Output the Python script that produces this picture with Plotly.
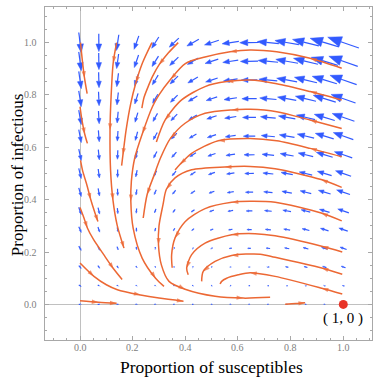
import numpy as np
import plotly.graph_objects as go

# ---- vector field: SIR model with vital dynamics (parameters)
beta = 1.0        # transmission rate
gamma_mu = 0.65   # recovery + death rate
mu = 0.08         # birth/death rate
grid_s = [0, 1/14, 2/14, 3/14, 4/14, 5/14, 6/14, 7/14, 8/14, 9/14, 10/14, 11/14, 12/14, 13/14, 1]
grid_i = [0, 1/14, 2/14, 3/14, 4/14, 5/14, 6/14, 7/14, 8/14, 9/14, 10/14, 11/14, 12/14, 13/14, 1]

# ---- streamlines (S, I), in direction of travel
stream_1 = [(0.002, 1.0), (0.009, 0.93), (0.017, 0.865), (0.027, 0.805)]
stream_2 = [(0.0, 0.755), (0.008, 0.70), (0.018, 0.65), (0.028, 0.615)]
stream_3 = [(0.002, 0.55), (0.01, 0.51), (0.025, 0.46), (0.041, 0.40), (0.055, 0.355), (0.068, 0.317)]
stream_4 = [(0.0, 0.37), (0.015, 0.33), (0.028, 0.292), (0.05, 0.25), (0.09, 0.19), (0.128, 0.135), (0.16, 0.095)]
stream_5 = [(0.0, 0.158), (0.053, 0.107), (0.10, 0.075), (0.142, 0.056), (0.23, 0.036), (0.30, 0.024), (0.393, 0.012)]
stream_6 = [(0.0, 0.014), (0.07, 0.008), (0.139, 0.004)]
stream_c = [(0.139, 1.0), (0.126, 0.922), (0.118, 0.792), (0.114, 0.666), (0.116, 0.513), (0.125, 0.399), (0.141, 0.303), (0.167, 0.215)]
stream_d = [(0.273, 1.0), (0.237, 0.922), (0.212, 0.846), (0.193, 0.769), (0.175, 0.666), (0.163, 0.571), (0.158, 0.53)]
stream_e = [(0.373, 1.0), (0.335, 0.96), (0.30, 0.915), (0.275, 0.87), (0.258, 0.83), (0.243, 0.79), (0.235, 0.75)]
stream_f = [(0.994, 0.902), (0.874, 0.94), (0.747, 0.965), (0.646, 0.972), (0.57, 0.965), (0.475, 0.945), (0.40, 0.92),
            (0.344, 0.86), (0.30, 0.80), (0.275, 0.755), (0.237, 0.653), (0.208, 0.56), (0.195, 0.47), (0.193, 0.394),
            (0.202, 0.29), (0.236, 0.177), (0.287, 0.10), (0.319, 0.069)]
stream_g = [(0.994, 0.781), (0.874, 0.813), (0.747, 0.843), (0.646, 0.857), (0.557, 0.851), (0.475, 0.832), (0.386, 0.781),
            (0.323, 0.704), (0.29, 0.62)]
stream_h = [(0.994, 0.672), (0.874, 0.704), (0.747, 0.736), (0.646, 0.745), (0.576, 0.743), (0.475, 0.73), (0.399, 0.692),
            (0.344, 0.635), (0.306, 0.56), (0.28, 0.49), (0.255, 0.42), (0.24, 0.33)]
stream_i = [(0.994, 0.564), (0.874, 0.596), (0.747, 0.625), (0.646, 0.634), (0.525, 0.625), (0.424, 0.577), (0.38, 0.535),
            (0.361, 0.513)]
stream_j = [(0.994, 0.447), (0.916, 0.477), (0.741, 0.518), (0.646, 0.527), (0.55, 0.525), (0.424, 0.514), (0.361, 0.483),
            (0.328, 0.44), (0.315, 0.38), (0.30, 0.30), (0.298, 0.228), (0.309, 0.151), (0.338, 0.088), (0.399, 0.058),
            (0.513, 0.031), (0.62, 0.024), (0.722, 0.027)]
stream_k = [(0.994, 0.319), (0.916, 0.349), (0.741, 0.39), (0.646, 0.394), (0.576, 0.39), (0.475, 0.366), (0.40, 0.317),
            (0.361, 0.254), (0.348, 0.19), (0.35, 0.14)]
stream_l = [(0.996, 0.2), (0.918, 0.222), (0.741, 0.262), (0.665, 0.27), (0.576, 0.266), (0.475, 0.234), (0.424, 0.19),
            (0.405, 0.139), (0.411, 0.113)]
stream_m = [(0.996, 0.115), (0.918, 0.139), (0.741, 0.18), (0.684, 0.192), (0.576, 0.187), (0.513, 0.164), (0.468, 0.126),
            (0.462, 0.088)]
stream_n = [(0.996, 0.04), (0.918, 0.062), (0.741, 0.107), (0.646, 0.121), (0.601, 0.113), (0.557, 0.10), (0.538, 0.088),
            (0.532, 0.078)]
stream_o = [(0.779, 0.001), (0.82, 0.003), (0.855, 0.006)]

streams = [stream_1, stream_2, stream_3, stream_4, stream_5, stream_6, stream_c, stream_d, stream_e, stream_f,
           stream_g, stream_h, stream_i, stream_j, stream_k, stream_l, stream_m, stream_n, stream_o]
# indices along each streamline where an arrowhead is drawn
arrow_at = [[2], [2], [3, 5], [2, 5], [1, 4, 6], [1, 2], [1, 3, 5, 7], [2, 5], [2], [1, 4, 7, 10, 13, 16],
            [1, 4, 7], [1, 4, 7, 10], [1, 4, 6], [1, 4, 7, 10, 13, 15], [1, 4, 7], [1, 4, 7], [1, 4, 6], [1, 3], [2]]

equilibrium = (1.0, 0.0)
eq_label = "( 1, 0 )"
xticks = [0.0, 0.2, 0.4, 0.6, 0.8, 1.0]
yticks = [0.0, 0.2, 0.4, 0.6, 0.8, 1.0]
xtitle = "Proportion of susceptibles"
ytitle = "Proportion of infectious"

# ---- geometry
W = H = 378
ML, MR, MT, MB = 45, 6, 7, 38
XR = [-0.133, 1.109]
YR = [-0.136, 1.136]
PW, PH = W - ML - MR, H - MT - MB
pxx = PW / (XR[1] - XR[0])
pxy = PH / (YR[1] - YR[0])

BLUE = "rgb(50,90,255)"
ORANGE = "rgb(236,104,52)"
TICKGRAY = "#808080"
SERIF = "Liberation Serif"

fig = go.Figure()

# vector field arrows
S, I = np.meshgrid(grid_s, grid_i)
U = mu * (1 - S) - beta * S * I
V = beta * S * I - gamma_mu * I
Up, Vp = U * pxx, V * pxy
mag = np.hypot(Up, Vp)
Lmax = 33.0
L = np.maximum(Lmax * mag / mag.max(), 1.6)
shaft_x, shaft_y, head_x, head_y = [], [], [], []
for r in range(S.shape[0]):
    for c in range(S.shape[1]):
        m = mag[r, c]
        if m == 0:
            dx, dy = 1.0, 0.0
        else:
            dx, dy = Up[r, c] / m, Vp[r, c] / m
        ln = L[r, c]
        cx, cy = S[r, c] * pxx, I[r, c] * pxy
        tx, ty = cx - dx * ln / 2, cy - dy * ln / 2
        hx, hy = cx + dx * ln / 2, cy + dy * ln / 2
        hl, hw = 0.42 * ln, 0.16 * ln
        bx, by = hx - dx * hl, hy - dy * hl
        shaft_x += [tx / pxx, bx / pxx, None]
        shaft_y += [ty / pxy, by / pxy, None]
        nx, ny = -dy, dx
        head_x += [hx / pxx, (bx + nx * hw) / pxx, (bx - nx * hw) / pxx, hx / pxx, None]
        head_y += [hy / pxy, (by + ny * hw) / pxy, (by - ny * hw) / pxy, hy / pxy, None]

fig.add_trace(go.Scatter(x=shaft_x, y=shaft_y, mode="lines", line=dict(color=BLUE, width=1.2),
                         hoverinfo="skip", showlegend=False))
fig.add_trace(go.Scatter(x=head_x, y=head_y, mode="lines", fill="toself", fillcolor=BLUE,
                         line=dict(color=BLUE, width=0.5), hoverinfo="skip", showlegend=False))

# streamlines
for pts, arr in zip(streams, arrow_at):
    xs = [p[0] for p in pts]
    ys = [p[1] for p in pts]
    sizes = [7 if k in arr else 0 for k in range(len(pts))]
    fig.add_trace(go.Scatter(x=xs, y=ys, mode="lines+markers",
                             line=dict(color=ORANGE, width=1.5, shape="spline", smoothing=0.8),
                             marker=dict(symbol="arrow", angleref="previous", size=sizes, color=ORANGE,
                                         line=dict(width=0)),
                             hoverinfo="skip", showlegend=False))

# equilibrium point
fig.add_trace(go.Scatter(x=[equilibrium[0]], y=[equilibrium[1]], mode="markers",
                         marker=dict(color="rgb(232,52,40)", size=9), showlegend=False))
fig.add_annotation(x=equilibrium[0], y=equilibrium[1], xref="x", yref="y", text=eq_label, showarrow=False,
                   yshift=-14, font=dict(family=SERIF, size=15, color="black"))

axis_common = dict(showline=True, mirror="ticks", linecolor="#a8a8a8", linewidth=1, ticks="inside", ticklen=4,
                   tickcolor="#a8a8a8", tickwidth=1, showgrid=False, zeroline=True, zerolinecolor="#c0c0c0",
                   zerolinewidth=1, showticklabels=False,
                   minor=dict(ticks="inside", ticklen=2, tickcolor="#a8a8a8", dtick=0.05, tick0=0, showgrid=False))
fig.update_xaxes(range=XR, tickvals=xticks, **axis_common)
fig.update_yaxes(range=YR, tickvals=yticks, **axis_common)

# tick labels
for v in xticks:
    fig.add_annotation(x=v, xref="x", y=-7 / PH, yref="paper", text=f"{v:.1f}", showarrow=False,
                       xanchor="center", yanchor="middle", font=dict(family=SERIF, size=10, color=TICKGRAY))
for v in yticks:
    fig.add_annotation(y=v, yref="y", x=-6 / PW, xref="paper", text=f"{v:.1f}", showarrow=False,
                       xanchor="right", yanchor="middle", font=dict(family=SERIF, size=10, color=TICKGRAY))

fig.add_annotation(text=xtitle, xref="paper", yref="paper", x=0.51, y=-27 / PH,
                   showarrow=False, yanchor="middle", font=dict(family=SERIF, size=17.5, color="black"))
fig.add_annotation(text=ytitle, xref="paper", yref="paper", x=-28 / PW, y=0.495,
                   showarrow=False, textangle=-90, xanchor="center", yanchor="middle",
                   font=dict(family=SERIF, size=17, color="black"))

fig.update_layout(width=W, height=H, margin=dict(l=ML, r=MR, t=MT, b=MB), plot_bgcolor="white",
                  paper_bgcolor="white", showlegend=False)
fig.write_html("out.html")
